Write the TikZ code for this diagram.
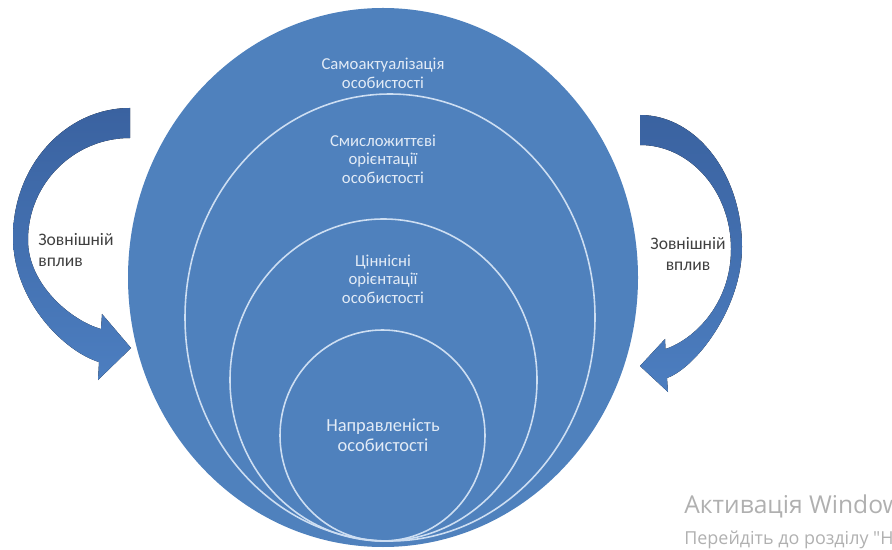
\documentclass[tikz,border=0pt]{standalone}
\usepackage{fontspec}
\setmainfont{Carlito}
\newfontfamily\wmfont{Open Sans}
\usetikzlibrary{calc}

\definecolor{circblue}{RGB}{79,129,189}
\definecolor{ringline}{RGB}{205,222,242}
\definecolor{arrtop}{RGB}{58,98,160}
\definecolor{arrbot}{RGB}{76,126,192}
\definecolor{intxt}{RGB}{226,235,246}
\definecolor{sidetxt}{RGB}{64,64,64}
\definecolor{wmgray}{RGB}{176,176,176}

\begin{document}
\begin{tikzpicture}[
  x=0.02cm, y=-0.02cm,
  ring/.style={draw=ringline, line width=0.9pt},
  intext/.style={text=intxt, align=center, inner sep=0pt,
    font=\fontsize{9.5}{10.6}\selectfont},
  outtext/.style={text=sidetxt, inner sep=0pt,
    font=\fontsize{10}{11.5}\selectfont},
  bendarrow/.style={top color=arrtop, bottom color=arrbot, draw=none},
  wmark/.style={anchor=west, inner sep=0pt, text=wmgray},
]
\useasboundingbox (0,0) rectangle (892,550);

% big disc and inner rings
\fill[circblue] (383,277.5) ellipse [x radius=255, y radius=269.5];
\foreach \cx/\cy/\rx/\ry in {390/317.5/205/223.5, 383.5/380/153.5/161, 382.5/435.5/102.5/105.5} {
  \draw[ring] (\cx,\cy) ellipse [x radius=\rx, y radius=\ry];
}

\node[intext] (t1) at (383,73.5) {Самоактуалізація\\особистості};
\node[intext] (t2) at (383,159) {Смисложиттєві\\орієнтації\\особистості};
\node[intext] (t3) at (383,279) {Ціннісні\\орієнтації\\особистості};
\node[intext, font=\fontsize{10.5}{11.6}\selectfont] (t4) at (383,435) {Направленість\\особистості};

% curved arrows
\fill[bendarrow] (130,108) .. controls (65.4,108) and (13,165.8) .. (13,237)
  .. controls (13,302) and (65.5,352) .. (99,362)
  -- (98,380) -- (131,348) -- (102,314) -- (101,329)
  .. controls (72,321) and (28,285) .. (28,240)
  .. controls (28,183.7) and (73.7,138) .. (130,138) -- cycle;
\fill[bendarrow] (640,115) .. controls (696.3,115) and (742,174.1) .. (742,247)
  .. controls (742,307) and (697,367) .. (667,378)
  -- (668,392) -- (640,366) -- (665,339) -- (665.5,349)
  .. controls (694,339.5) and (731,304) .. (731,249)
  .. controls (731,191.6) and (690.3,145) .. (640,145) -- cycle;

\node[outtext, anchor=west, align=left] (el) at (38,250) {Зовнішній\\вплив};
\node[outtext, align=center] (er) at (688,254) {Зовнішній\\вплив};

% watermark
\node[wmark, font=\wmfont\fontsize{14}{15}\selectfont] (wm1) at (684,506) {Активація Windows};
\node[wmark, font=\wmfont\fontsize{10.2}{12}\selectfont] (wm2) at (684,540) {Перейдіть до розділу "Н};
\end{tikzpicture}
\end{document}
